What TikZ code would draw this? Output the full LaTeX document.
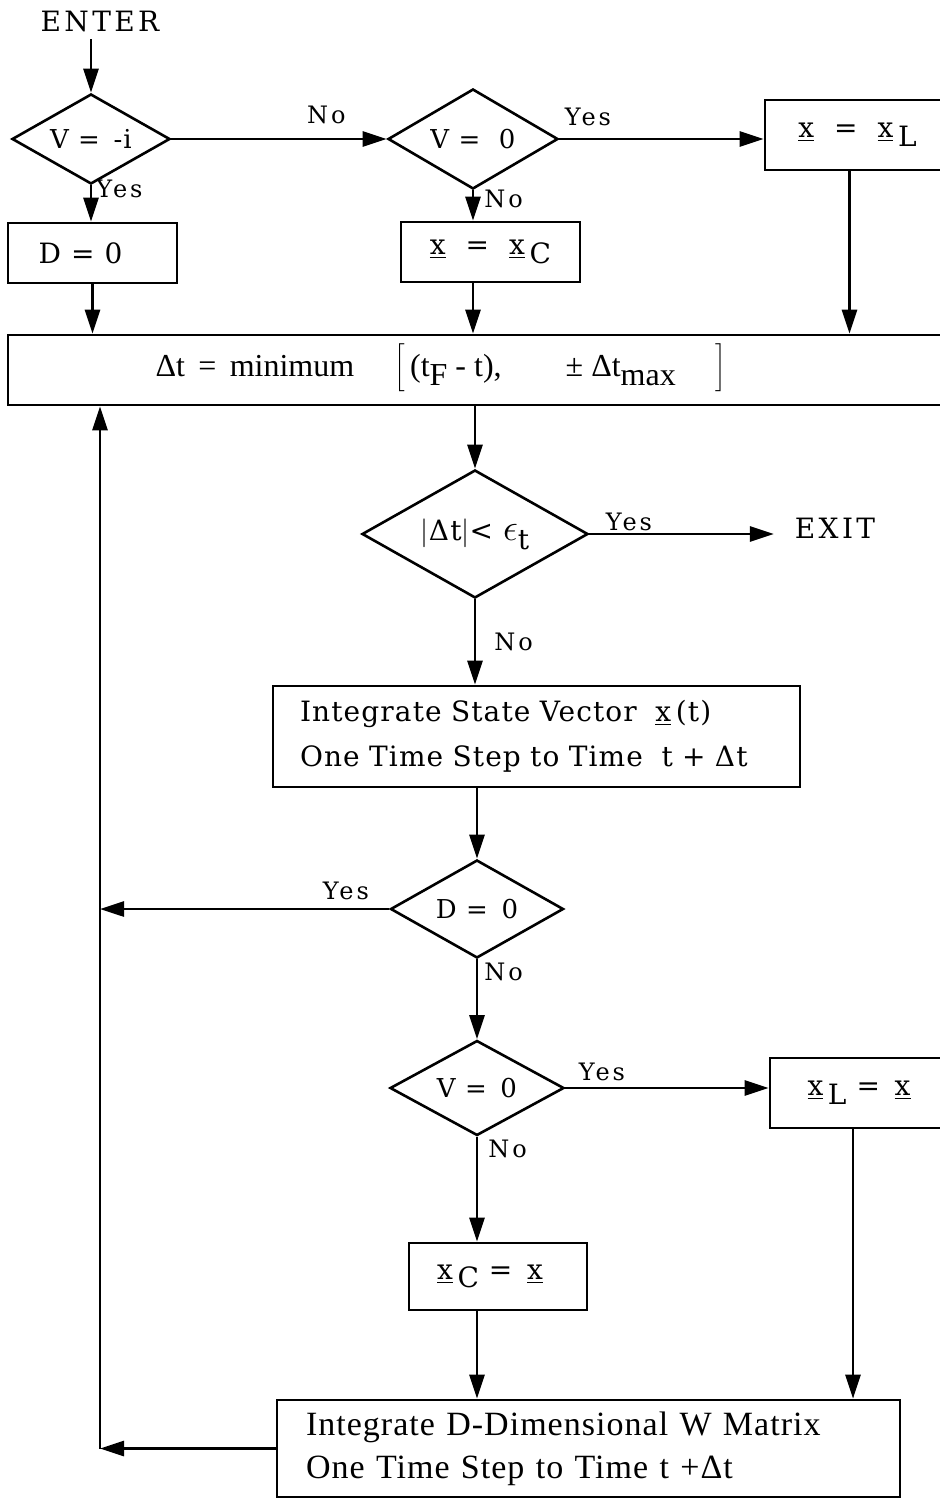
\documentclass[tikz,border=0pt]{standalone}
\usepackage{fontspec}
\setmainfont{DejaVu Serif}
\newfontfamily\spacedfont[LetterSpace=12]{DejaVu Serif}
\newfontfamily\boxfont[LetterSpace=4]{DejaVu Serif}
\newfontfamily\narrowfont{Liberation Serif}
\newfontfamily\widenarrowfont[LetterSpace=3]{Liberation Serif}
\usepackage{tikz}
\usetikzlibrary{arrows.meta,positioning,shapes.geometric,calc}
\newcommand{\vx}{\underline{x}}
\newcommand{\lowsub}[1]{\raisebox{-0.6ex}{#1}}

\begin{document}
\begin{tikzpicture}[x=0.5pt,y=-0.5pt,>={Triangle[length=12pt,width=7.5pt]},
  flow/.style={->,line width=1.4pt},
  box/.style={draw,line width=1.3pt,inner sep=0pt,font=\boxfont\fontsize{14}{16}\selectfont},
  decision/.style={draw,diamond,aspect=1.75,line width=1.3pt,inner sep=0pt,
    font=\boxfont\fontsize{13}{15}\selectfont},
  answer/.style={font=\spacedfont\fontsize{12}{13}\selectfont,inner sep=1pt}]
  \useasboundingbox (0,0) rectangle (940,1502);
  \clip (0,0) rectangle (940,1502);

  % Entry and the two V tests
  \node[font=\spacedfont\fontsize{14}{16}\selectfont] (enter) at (100,22) {ENTER};
  \node[decision,minimum width=79pt,minimum height=45pt] (vm) at (91,139) {V\ = \,-i};
  \node[box,minimum width=84.5pt,minimum height=30pt] (dzero) at (92.5,253) {D = 0\hspace*{12pt}};
  \node[decision,minimum width=85pt,minimum height=50pt] (vzero) at (473,139) {V\ = \ 0};
  \node[box,minimum width=89.5pt,minimum height=30pt] (xcopy) at (490.5,252) {\vx\ \ =\ \ \vx\,\lowsub{C}};
  \node[box,minimum width=92.5pt,minimum height=35pt] (xload) at (857.5,135) {\vx\ \ =\ \ \vx\,\lowsub{L}};

  % Step size
  \node[box,minimum width=476pt,minimum height=35pt] (dtbox) at (484,370) {};
  \node[font=\narrowfont\fontsize{16}{18}\selectfont] (dttext) at (441,368)
    {Δt\, = \,minimum \quad $\biggl[$\,(t\lowsub{F} - t),\qquad ± Δt\lowsub{max} \quad $\biggr]$};

  % Exit test
  \node[decision,minimum width=113pt,minimum height=64pt,font=\boxfont\fontsize{14}{16}\selectfont]
    (tcheck) at (475,534) {$\Bigl|$Δt$\Bigr|$< \scalebox{1.3}{$\epsilon$}\lowsub{t}};
  \node[font=\spacedfont\fontsize{14}{16}\selectfont] (exit) at (835,528) {EXIT};

  % State vector
  \node[box,minimum width=263.5pt,minimum height=50.5pt,text width=236.5pt,align=left,
    font=\boxfont\fontsize{14}{22.5}\selectfont] (stateint) at (536.5,736.5)
    {Integrate State Vector \ \vx\,(t)\\One Time Step to Time \ t + Δt};

  % D and V tests after the step
  \node[decision,minimum width=86.5pt,minimum height=49pt] (dcheck) at (477,909) {D\ = \,0};
  \node[decision,minimum width=87pt,minimum height=47.5pt] (vcheck) at (477,1088) {V\ = \,0};
  \node[box,minimum width=95pt,minimum height=35pt] (xlsave) at (865,1093) {\vx\,\lowsub{L}\ = \,\vx\hspace*{6pt}};
  \node[box,minimum width=89pt,minimum height=33.5pt] (xcsave) at (498,1276.5) {\vx\,\lowsub{C}\ = \,\vx\hspace*{8pt}};

  % W matrix
  \node[box,minimum width=311.5pt,minimum height=48.5pt,text width=282.5pt,align=left,
    font=\widenarrowfont\fontsize{17}{21.5}\selectfont] (wint) at (588.5,1448.5)
    {Integrate D-Dimensional W Matrix\\One Time Step to Time t +Δt};
  \coordinate (loop) at (100,0);

  % Connectors
  \draw[flow] (enter.south -| vm.north) -- (vm.north);
  \draw[flow] (vm.south) -- (vm.south |- dzero.north)
    node[answer,anchor=west,pos=0,xshift=1pt,yshift=-2pt] {Yes};
  \draw[flow] (vm.east) -- (vzero.west) node[answer,above,pos=0.72,yshift=6pt] {No};
  \draw[flow] (vzero.east) -- (vzero.east -| xload.west)
    node[answer,above,pos=0.14,yshift=5pt] {Yes};
  \draw[flow] (vzero.south) -- (vzero.south |- xcopy.north)
    node[answer,anchor=north west,pos=0,xshift=4pt,yshift=2pt] {No};
  \draw[flow] (dzero.south) -- (dzero.south |- dtbox.north);
  \draw[flow] (vzero.south |- xcopy.south) -- (vzero.south |- dtbox.north);
  \draw[flow] ([xshift=-4pt]xload.south) -- ([xshift=-4pt]xload.south |- dtbox.north);
  \draw[flow] (tcheck.north |- dtbox.south) -- (tcheck.north);
  \draw[flow,shorten >=7pt] (tcheck.east) -- (tcheck.east -| exit.west)
    node[answer,above,pos=0.2,yshift=0pt] {Yes};
  \draw[flow] (tcheck.south) -- (tcheck.south |- stateint.north)
    node[answer,right,midway,xshift=8pt] {No};
  \draw[flow] (dcheck.north |- stateint.south) -- (dcheck.north);
  \draw[flow] (dcheck.west) -- (dcheck.west -| loop)
    node[answer,above,pos=0.15,yshift=3pt] {Yes};
  \draw[flow] (dcheck.south) -- (dcheck.south |- vcheck.north)
    node[answer,anchor=north west,pos=0,xshift=2pt] {No};
  \draw[flow] (vcheck.east) -- (vcheck.east -| xlsave.west)
    node[answer,above,pos=0.18,yshift=2pt] {Yes};
  \draw[flow] (vcheck.south) -- (vcheck.south |- xcsave.north)
    node[answer,anchor=north west,pos=0,xshift=4pt] {No};
  \draw[flow] (vcheck.south |- xcsave.south) -- (vcheck.south |- wint.north);
  \draw[flow] ([xshift=-6pt]xlsave.south) -- ([xshift=-6pt]xlsave.south |- wint.north);
  \draw[flow] (wint.west) -- (wint.west -| loop);
  \draw[flow] (wint.west -| loop) -- (dtbox.south -| loop);
\end{tikzpicture}
\end{document}
